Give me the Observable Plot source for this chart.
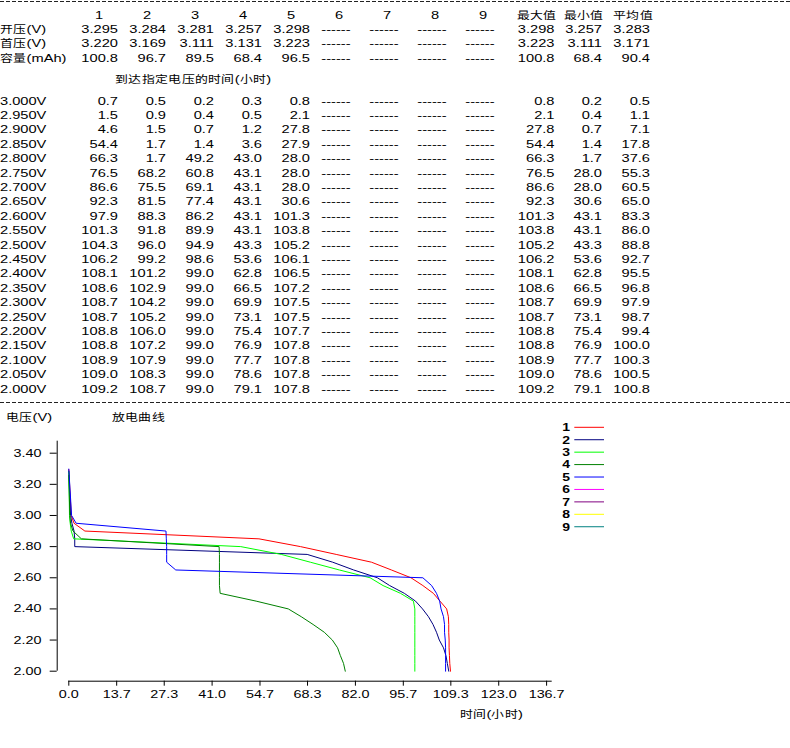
<!DOCTYPE html>
<html>
<head>
<meta charset="utf-8">
<script src="https://cdn.jsdelivr.net/npm/d3@7"></script>
<script src="https://cdn.jsdelivr.net/npm/@observablehq/plot@0.6"></script>
<style>
  @font-face {
    font-family: "CJKNarrow";
    src: local("Noto Sans CJK SC"), local("Noto Sans CJK SC Regular"), local("NotoSansCJKsc-Regular");
    size-adjust: 88%;
    unicode-range: U+3000-9FFF, U+FF00-FFEF;
  }
  html, body { margin: 0; padding: 0; background: #fff; }
  #page {
    position: relative; width: 790px; height: 748px; overflow: hidden;
    font-family: "Liberation Sans", "CJKNarrow", "Noto Sans CJK SC", sans-serif;
  }
  #chart { position: absolute; left: 0; top: 405px; }
  #overlay { position: absolute; left: 0; top: 0; pointer-events: none; }
</style>
</head>
<body>
<div id="page">
  <div id="chart"></div>
  <svg id="overlay" width="790" height="748"></svg>
</div>
<script>
// Cells 1-9; only 1-5 were tested
const seriesNames = ["1", "2", "3", "4", "5", "6", "7", "8", "9"];
const seriesColors = ["#ff0000", "#000080", "#00ff00", "#008000", "#0000ff", "#ff00ff", "#800080", "#ffff00", "#008080"];
const statHeads = ["最大值", "最小值", "平均值"];

const openVolt = [3.295, 3.284, 3.281, 3.257, 3.298];
const firstVolt = [3.220, 3.169, 3.111, 3.131, 3.223];
const capacity = [100.8, 96.7, 89.5, 68.4, 96.5];
const openStats = [3.298, 3.257, 3.283];
const firstStats = [3.223, 3.111, 3.171];
const capStats = [100.8, 68.4, 90.4];

// Hours needed to reach each cut-off voltage
const cutoffVolts = [3.00, 2.95, 2.90, 2.85, 2.80, 2.75, 2.70, 2.65, 2.60, 2.55, 2.50,
                     2.45, 2.40, 2.35, 2.30, 2.25, 2.20, 2.15, 2.10, 2.05, 2.00];
const hours1 = [0.7, 1.5, 4.6, 54.4, 66.3, 76.5, 86.6, 92.3, 97.9, 101.3, 104.3, 106.2, 108.1, 108.6, 108.7, 108.7, 108.8, 108.8, 108.9, 109.0, 109.2];
const hours2 = [0.5, 0.9, 1.5, 1.7, 1.7, 68.2, 75.5, 81.5, 88.3, 91.8, 96.0, 99.2, 101.2, 102.9, 104.2, 105.2, 106.0, 107.2, 107.9, 108.3, 108.7];
const hours3 = [0.2, 0.4, 0.7, 1.4, 49.2, 60.8, 69.1, 77.4, 86.2, 89.9, 94.9, 98.6, 99.0, 99.0, 99.0, 99.0, 99.0, 99.0, 99.0, 99.0, 99.0];
const hours4 = [0.3, 0.5, 1.2, 3.6, 43.0, 43.1, 43.1, 43.1, 43.1, 43.1, 43.3, 53.6, 62.8, 66.5, 69.9, 73.1, 75.4, 76.9, 77.7, 78.6, 79.1];
const hours5 = [0.8, 2.1, 27.8, 27.9, 28.0, 28.0, 28.0, 30.6, 101.3, 103.8, 105.2, 106.1, 106.5, 107.2, 107.5, 107.5, 107.7, 107.8, 107.8, 107.8, 107.8];
const hoursMax = [0.8, 2.1, 27.8, 54.4, 66.3, 76.5, 86.6, 92.3, 101.3, 103.8, 105.2, 106.2, 108.1, 108.6, 108.7, 108.7, 108.8, 108.8, 108.9, 109.0, 109.2];
const hoursMin = [0.2, 0.4, 0.7, 1.4, 1.7, 28.0, 28.0, 30.6, 43.1, 43.1, 43.3, 53.6, 62.8, 66.5, 69.9, 73.1, 75.4, 76.9, 77.7, 78.6, 79.1];
const hoursAvg = [0.5, 1.1, 7.1, 17.8, 37.6, 55.3, 60.5, 65.0, 83.3, 86.0, 88.8, 92.7, 95.5, 96.8, 97.9, 98.7, 99.4, 100.0, 100.3, 100.5, 100.8];

const xTickLabels = ["0.0", "13.7", "27.3", "41.0", "54.7", "68.3", "82.0", "95.7", "109.3", "123.0", "136.7"];
const yTickLabels = ["2.00", "2.20", "2.40", "2.60", "2.80", "3.00", "3.20", "3.40"];

const hourSeries = [hours1, hours2, hours3, hours4, hours5];

// ---------- discharge curves ----------
const points = hourSeries.flatMap((hs, s) => [
  {series: seriesNames[s], t: 0, v: openVolt[s]},
  ...hs.map((h, k) => ({series: seriesNames[s], t: h, v: cutoffVolts[k]}))
]);

const xDomain = [0, 138.3];
const yDomain = [2.0, 3.477];
const xGap = 11.6;   // y axis sits left of x = 0
const yGap = 10;     // x axis sits below V = 2.00
const xTicks = xTickLabels.map(Number);
const yTicks = yTickLabels.map(Number);
const xLab = new Map(d3.zip(xTicks, xTickLabels));
const yLab = new Map(d3.zip(yTicks, yTickLabels));
const axisFont = "'Liberation Sans', CJKNarrow, sans-serif";

const chart = Plot.plot({
  width: 790,
  height: 343,
  marginLeft: 56.7,
  marginRight: 238.3,
  marginTop: 35.7,
  marginBottom: 67.3,
  style: {fontFamily: axisFont, fontSize: "10.8px", color: "#000", background: "none", overflow: "visible"},
  x: {domain: xDomain, insetLeft: xGap, label: null},
  y: {domain: yDomain, insetBottom: yGap, label: null},
  color: {domain: seriesNames, range: seriesColors},
  marks: [
    Plot.axisY(yTicks, {tickSize: 7, tickPadding: 8.7, tickFormat: d => yLab.get(d), label: null}),
    Plot.axisX(xTicks, {tickSize: 5, tickPadding: 4, tickFormat: d => xLab.get(d), label: null}),
    Plot.ruleX([xDomain[0]], {y1: yDomain[0], y2: yDomain[1], dx: -xGap, stroke: "#000"}),
    Plot.ruleY([yDomain[0]], {x1: xDomain[0], x2: xDomain[1], dy: yGap, stroke: "#000"}),
    Plot.line(points, {x: "t", y: "v", z: "series", stroke: "series", strokeWidth: 1, curve: "linear"})
  ]
});
document.getElementById("chart").append(chart);

// ---------- table, titles and legend ----------
const ov = d3.select("#overlay");
const tableFont = "11px";

function txt(x, y, s, anchor = "start", size = tableFont, weight = "normal") {
  ov.append("text")
    .attr("x", x).attr("y", y).attr("dy", "0.36em")
    .attr("text-anchor", anchor)
    .attr("font-size", size)
    .attr("font-weight", weight)
    .attr("fill", "#000")
    .text(s);
}
function dashedRule(y) {
  ov.append("line")
    .attr("x1", 0).attr("x2", 790).attr("y1", y).attr("y2", y)
    .attr("stroke", "#222").attr("stroke-width", 1)
    .attr("stroke-dasharray", "4,2");
}

const colRight = i => 118 + 48 * i;
const colCenter = i => 99 + 48 * i;
const statRight = [554.5, 602, 650];
const statCenter = [536.5, 583.5, 633];

function tableRow(label, y, cells, stats) {
  txt(0, y, label);
  seriesNames.forEach((_, i) => {
    if (i < cells.length) txt(colRight(i), y, cells[i], "end");
    else txt(colCenter(i) - 3, y, "------", "middle");
  });
  stats.forEach((s, j) => txt(statRight[j], y, s, "end"));
}

dashedRule(1.5);
seriesNames.forEach((n, i) => txt(colCenter(i), 15, n, "middle"));
statHeads.forEach((h, j) => txt(statCenter[j], 15, h, "middle"));

tableRow("开压(V)", 29, openVolt.map(v => v.toFixed(3)), openStats.map(v => v.toFixed(3)));
tableRow("首压(V)", 43.5, firstVolt.map(v => v.toFixed(3)), firstStats.map(v => v.toFixed(3)));
tableRow("容量(mAh)", 58, capacity.map(v => v.toFixed(1)), capStats.map(v => v.toFixed(1)));

txt(115, 79, "到达指定电压的时间(小时)");

cutoffVolts.forEach((v, k) => {
  tableRow(v.toFixed(3) + "V", 100.7 + 14.4 * k,
    hourSeries.map(hs => hs[k].toFixed(1)),
    [hoursMax[k], hoursMin[k], hoursAvg[k]].map(h => h.toFixed(1)));
});
dashedRule(402.5);

// chart titles
txt(6, 417.3, "电压(V)");
txt(111.7, 417, "放电曲线");
txt(460, 714.3, "时间(小时)");

// legend
seriesNames.forEach((n, i) => {
  const y = 427.3 + 12.43 * i;
  txt(570, y, n, "end", "10.5px", "bold");
  ov.append("line")
    .attr("x1", 574.3).attr("x2", 604).attr("y1", y).attr("y2", y)
    .attr("stroke", seriesColors[i]).attr("stroke-width", 1);
});

// The lettering of this report is set wide: stretch every label horizontally
const widen = 1.33;
function stretchText() {
  document.querySelectorAll("#page svg text").forEach(t => {
    t.removeAttribute("textLength");
    const w = t.getComputedTextLength();
    if (w > 0) {
      t.setAttribute("textLength", (w * widen).toFixed(2));
      t.setAttribute("lengthAdjust", "spacingAndGlyphs");
    }
  });
}
stretchText();
if (document.fonts && document.fonts.ready) document.fonts.ready.then(stretchText);
</script>
</body>
</html>
